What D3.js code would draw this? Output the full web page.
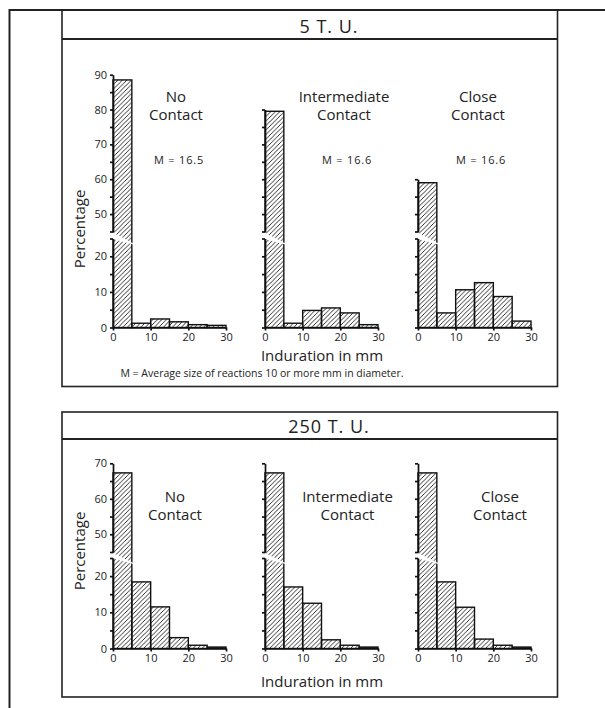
<!DOCTYPE html>
<html>
<head>
<meta charset="utf-8">
<script src="https://cdn.jsdelivr.net/npm/d3@7"></script>
<style>
  body { margin: 0; background: #fff; }
  svg text { font-family: "Open Sans", "DejaVu Sans", sans-serif; fill: #222; }
  .axis path, .axis line { stroke: #111; stroke-width: 1.7; }
  .axis text { font-size: 11px; }
</style>
</head>
<body>
<div id="chart"></div>
<script>
// values (percent of children per 5 mm induration class)
var doses = ["5 T. U.", "250 T. U."];
var contactGroups = [["No", "Contact"], ["Intermediate", "Contact"], ["Close", "Contact"]];
var binStarts = [0, 5, 10, 15, 20, 25];
var binWidth = 5;
var xTicks = [0, 10, 20, 30];

var pct5_no = [88.5, 1.2, 2.4, 1.6, 0.8, 0.6];
var pct5_intermediate = [79.5, 1.2, 4.8, 5.5, 4.1, 0.8];
var pct5_close = [59, 4.1, 10.6, 12.6, 8.7, 1.8];
var pct250_no = [67.3, 18.4, 11.5, 3.0, 0.9, 0.4];
var pct250_intermediate = [67.3, 17.0, 12.5, 2.4, 0.9, 0.4];
var pct250_close = [67.3, 18.4, 11.4, 2.6, 0.9, 0.4];

var means5 = ["M = 16.5", "M = 16.6", "M = 16.6"];
var axisTop5 = [90, 80, 60];
var axisTop250 = [70, 70, 70];
var lowerMax = 25, upperMin = 45;

var yTitle = "Percentage";
var xTitle = "Induration in mm";
var footnote = "M = Average size of reactions 10 or more mm in diameter.";

var width = 605, height = 708;
var svg = d3.select("#chart").append("svg")
    .attr("width", width)
    .attr("height", height);

// hatch fill
svg.append("defs").append("pattern")
    .attr("id", "hatch")
    .attr("patternUnits", "userSpaceOnUse")
    .attr("width", 4.5)
    .attr("height", 4.5)
    .append("path")
    .attr("d", "M0,4.5 L4.5,0 M-1,1 L1,-1 M3.5,5.5 L5.5,3.5")
    .attr("stroke", "#1a1a1a")
    .attr("stroke-width", 0.9);

// outer frame (only left and top edge show)
svg.append("path")
    .attr("d", "M9.5,708 V10 H605")
    .attr("fill", "none")
    .attr("stroke", "#222")
    .attr("stroke-width", 2);

var panelX = [113, 265, 418];
var plotW = 113;

var rows = [
    {
        title: doses[0], data: [pct5_no, pct5_intermediate, pct5_close], means: means5, axisTop: axisTop5,
        top: 10, header: 39, bottom: 386.5, titleY: 32.5,
        up: d3.scaleLinear().domain([upperMin, 90]).range([231.5, 74.7]),
        low: d3.scaleLinear().domain([0, lowerMax]).range([327.5, 238.5]),
        labelX: [176, 344, 478], labelY: [101.5, 119.5], meanY: 164,
        yTitleY: 229, xTitleY: 360.5, foot: true
    },
    {
        title: doses[1], data: [pct250_no, pct250_intermediate, pct250_close], means: null, axisTop: axisTop250,
        top: 412, header: 439, bottom: 697, titleY: 433,
        up: d3.scaleLinear().domain([upperMin, 70]).range([552, 463.3]),
        low: d3.scaleLinear().domain([0, lowerMax]).range([648.5, 558]),
        labelX: [175, 347.5, 500], labelY: [502, 520], meanY: null,
        yTitleY: 551, xTitleY: 687, foot: false
    }
];

rows.forEach(function(r) {
    var g = svg.append("g");

    // panel box + header
    g.append("rect")
        .attr("x", 62).attr("y", r.top)
        .attr("width", 495.5).attr("height", r.bottom - r.top)
        .attr("fill", "none").attr("stroke", "#222").attr("stroke-width", 1.6);
    g.append("line")
        .attr("x1", 62).attr("x2", 557.5)
        .attr("y1", r.header).attr("y2", r.header)
        .attr("stroke", "#222").attr("stroke-width", 2.2);
    g.append("text")
        .attr("x", 329).attr("y", r.titleY)
        .attr("text-anchor", "middle")
        .style("font-size", "18px")
        .style("letter-spacing", "1px")
        .text(r.title);

    function yv(v) { return v > lowerMax ? r.up(v) : r.low(v); }

    r.data.forEach(function(values, i) {
        var x = d3.scaleLinear().domain([0, 30]).range([panelX[i], panelX[i] + plotW]);
        var base = r.low(0);
        var p = g.append("g");

        p.selectAll("rect.bar")
            .data(values)
            .enter().append("rect")
            .attr("class", "bar")
            .attr("x", function(d, j) { return x(binStarts[j]); })
            .attr("width", function(d, j) { return x(binStarts[j] + binWidth) - x(binStarts[j]); })
            .attr("y", function(d) { return yv(d); })
            .attr("height", function(d) { return base - yv(d); })
            .attr("fill", "url(#hatch)")
            .attr("stroke", "#111")
            .attr("stroke-width", 1.4);

        // white wedge for the scale break
        var bx0 = x(binStarts[0]), bx1 = x(binStarts[0] + binWidth);
        p.append("polygon")
            .attr("points", [
                [bx0 - 2, r.up(upperMin)],
                [bx1 + 1.5, r.low(lowerMax) + 5],
                [bx1 + 1.5, r.low(lowerMax) + 6],
                [bx0 - 2, r.low(lowerMax)]
            ].map(function(q) { return q.join(","); }).join(" "))
            .attr("fill", "#fff");

        var showLabels = i === 0;
        var fmt = function(d) { return showLabels && d % 10 === 0 ? d : ""; };

        p.append("g")
            .attr("class", "axis")
            .attr("transform", "translate(" + panelX[i] + ",0)")
            .call(d3.axisLeft(r.low).tickValues(d3.range(0, lowerMax + 1, 5))
                .tickSize(3).tickSizeOuter(0).tickPadding(3).tickFormat(fmt));

        var upScale = r.up.copy().domain([upperMin, r.axisTop[i]])
            .range([r.up(upperMin), r.up(r.axisTop[i])]);
        p.append("g")
            .attr("class", "axis")
            .attr("transform", "translate(" + panelX[i] + ",0)")
            .call(d3.axisLeft(upScale).tickValues(d3.range(upperMin, r.axisTop[i] + 1, 5))
                .tickSize(3).tickSizeOuter(0).tickPadding(3).tickFormat(fmt));

        p.append("g")
            .attr("class", "axis")
            .attr("transform", "translate(0," + base + ")")
            .call(d3.axisBottom(x).tickValues(xTicks).tickSize(3).tickSizeOuter(0).tickPadding(3));

        // group labels
        contactGroups[i].forEach(function(s, k) {
            p.append("text")
                .attr("x", r.labelX[i]).attr("y", r.labelY[k])
                .attr("text-anchor", "middle")
                .style("font-size", "15px")
                .text(s);
        });
        if (r.means) {
            p.append("text")
                .attr("x", r.labelX[i] + 3).attr("y", r.meanY)
                .attr("text-anchor", "middle")
                .style("font-size", "11px")
                .style("letter-spacing", "0.8px")
                .text(r.means[i]);
        }
    });

    g.append("text")
        .attr("transform", "translate(84.5," + r.yTitleY + ") rotate(-90)")
        .attr("text-anchor", "middle")
        .style("font-size", "15px")
        .text(yTitle);

    g.append("text")
        .attr("x", 322).attr("y", r.xTitleY)
        .attr("text-anchor", "middle")
        .style("font-size", "15px")
        .text(xTitle);

    if (r.foot) {
        g.append("text")
            .attr("x", 262).attr("y", 377)
            .attr("text-anchor", "middle")
            .style("font-size", "10.5px")
            .text(footnote);
    }
});
</script>
</body>
</html>
